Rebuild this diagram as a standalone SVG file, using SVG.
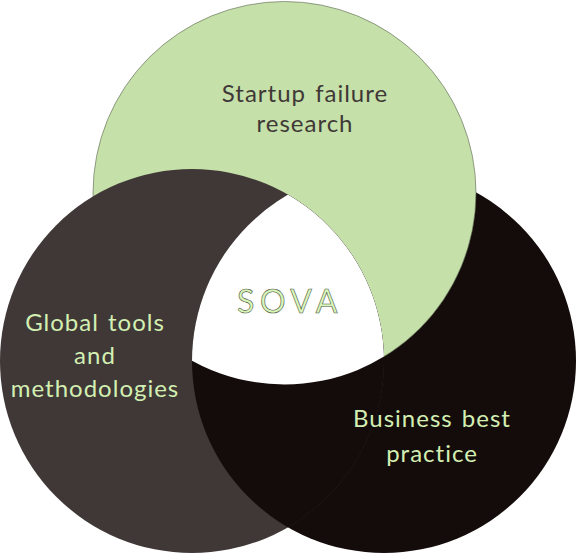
<svg xmlns="http://www.w3.org/2000/svg" width="576" height="553" viewBox="0 0 576 553">
  <defs>
    <style>
      .lbl { font-family: Lato, "Open Sans", "Liberation Sans", sans-serif; font-size: 24px; text-anchor: middle; letter-spacing: 1px; word-spacing: 2px; }
      .light { fill: #d3efb2; }
      .dark { fill: #3f3837; }
      .sova { font-family: Lato, "Open Sans", "Liberation Sans", sans-serif; font-size: 32px; text-anchor: middle; fill: #d9f6b9; stroke: #4a5540; stroke-width: 0.6; letter-spacing: 5.5px; }
    </style>
    <clipPath id="clipLeft"><circle cx="192" cy="361" r="192"/></clipPath>
    <clipPath id="clipRight"><circle cx="384" cy="361" r="192"/></clipPath>
  </defs>
  <rect width="576" height="553" fill="#ffffff"/>
  <g id="node-business">
    <circle cx="384" cy="361" r="192" fill="#140c0b"/>
  </g>
  <g id="node-startup">
    <circle cx="284.5" cy="193" r="191.5" fill="#c5e0a8" stroke="#5a6350" stroke-width="0.6"/>
  </g>
  <g id="node-global">
    <circle cx="192" cy="361" r="192" fill="#3f3837"/>
  </g>
  <g id="overlap">
    <circle cx="384" cy="361" r="192" fill="#140c0b" clip-path="url(#clipLeft)"/>
    <g clip-path="url(#clipRight)">
      <circle cx="284.5" cy="193" r="191.5" fill="#ffffff" clip-path="url(#clipLeft)"/>
    </g>
  </g>
  <g id="labels">
    <text class="lbl dark" x="305" y="102">Startup failure</text>
    <text class="lbl dark" x="305" y="132">research</text>
    <text class="lbl light" x="95" y="331">Global tools</text>
    <text class="lbl light" x="95" y="364">and</text>
    <text class="lbl light" x="95" y="397">methodologies</text>
    <text class="lbl light" x="432" y="427">Business best</text>
    <text class="lbl light" x="432" y="462">practice</text>
    <text class="sova" x="290" y="313">SOVA</text>
  </g>
</svg>
